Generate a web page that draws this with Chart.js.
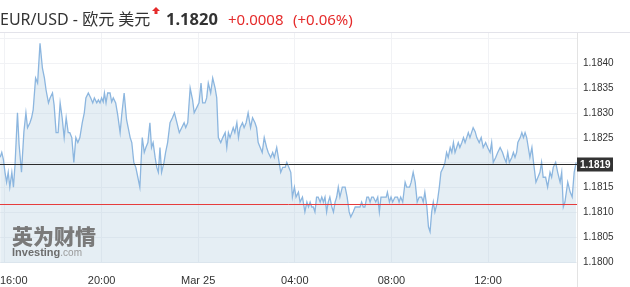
<!DOCTYPE html>
<html>
<head>
<meta charset="utf-8">
<script src="https://cdn.jsdelivr.net/npm/chart.js@4/dist/chart.umd.min.js"></script>
<style>
  html, body { margin: 0; padding: 0; background: #fff; }
  #wrap { position: relative; width: 630px; height: 287px; overflow: hidden; }
  canvas { position: absolute; left: 0; top: 0; }
  #hdr { position: absolute; left: 0; top: 0; height: 33px; width: 630px; white-space: nowrap;
         font-family: "Noto Sans", "Noto Sans CJK SC", sans-serif; }
  #hdr span { position: absolute; top: 7px; line-height: 24px; }
  #name { left: 0; font-size: 16px; color: #333; }
  #last { left: 166px; font-size: 16.5px; font-weight: bold; color: #333; }
  #chg { left: 228px; font-size: 15px; color: #e52b2b; }
  #pct { left: 293px; font-size: 15px; color: #e52b2b; }
  #arrow { position: absolute; left: 152px; top: 7px; width: 8px; height: 8px; }
  #wm { position: absolute; left: 12px; top: 223px; color: #7a7a7a; pointer-events: none; }
  #wm .cn { font-family: "Noto Sans CJK SC", sans-serif; font-weight: 900; font-size: 21px; line-height: 25px; }
  #wm .en { font-family: "Liberation Sans", Arial, sans-serif; font-size: 11px; line-height: 12px; margin-top: -2px; }
  #wm .en b { color: #6d6d6d; }
  #wm .en span { color: #9a9a9a; font-size: 10px; }
</style>
</head>
<body>
<div id="wrap">
  <canvas id="c" width="630" height="287"></canvas>
  <div id="hdr">
    <span id="name">EUR/USD - 欧元 美元</span>
    <svg id="arrow" viewBox="0 0 8 8"><path d="M4 0 L8 4 L5.5 4 L5.5 7 L2.5 7 L2.5 4 L0 4 Z" fill="#e52b2b"/></svg>
    <span id="last">1.1820</span>
    <span id="chg">+0.0008</span>
    <span id="pct">(+0.06%)</span>
  </div>
  <div id="wm"><div class="cn">英为财情</div><div class="en"><b>Investing</b><span>.com</span></div></div>
</div>
<script>
// minutes since 16:00 (Mar 24)
const minutes = [
-12,-8,-4,0,4,8,12,17,21,25, 31,35,41,47,52,56,62,66,70,76, 81,87,93,98,102,108,112,118,122,127,
132,137,142,147,152,157,161,166,171,176, 181,186,192,197,201,207,213,218,222,228,
232,236,240,244,247,251,255,261,265,269, 275,280,286,290,296,302,306,311,315,320,
325,330,335,341,346,350,355,360,364,368, 373,377,381,385,389,395,399,404,410,416,
421,427,433,439,445,449,454,460,
466,470,476,482,487,491,497,501,505,511, 516,522,526,530,536,541,547,551,555,559,
563,567,571,576,580,584,590,594,599,604, 610,615,621,625,629,634,639,644,650,654,
660,665,669,675,679,685,690,696,
700,704,710,714,719,723,729,733,739,745, 750,754,758,762,766,770,774,778,783,787,
791,795,799,803,807,812,816,820,824,828, 832,838,845,850,855,859,865,870,876,882,
886,890,894,899,903,907,911,915,921,926, 930,934,
942,947,950,955,959,963,969,975,979,983, 988,994,998,1005,1009,1014,1019,1024,1029,1035,
1039,1043,1048,1052,1056,1060,1064,1068,1074,1079, 1083,1089,1093,1097,1101,1106,1110,1114,1118,1122,
1126,1130,1135,1139,1143,1147,1151,1155,1159,1163,
1168,1172,1178,1183,1188,1194,1199,1205,1209,1213, 1219,1224,1230,1236,1240,1245,1249,1253,1259,1263,
1267,1271,1274,1280,1284,1288,1292,1296,1300,1304, 1309,1313,1319,1324,1329,1333,1337,1343,1348,1354,
1358,1362,1368,1373,1379,1383,1387,1391,1398,1404, 1409,1414,1419
];
const prices = [
1.18211,1.18221,1.18207,1.18181,1.18161,1.18181,1.18151,1.18181,1.18151,1.18197,
1.18301,1.18237,1.18181,1.18263,1.18301,1.18271,1.18281,1.18291,1.18307,1.18371,
1.18361,1.18441,1.18391,1.18371,1.18347,1.18321,1.18331,1.18341,1.18317,1.18261,
1.18261,1.18321,1.18291,1.18251,1.18291,1.18261,1.18261,1.18251,1.18201,1.18251,
1.18241,1.18251,1.18281,1.18301,1.18331,1.18341,1.18331,1.18321,1.18331,1.18321,
1.18327,1.18321,1.18331,1.18323,1.18341,1.18321,1.18341,1.18341,1.18323,1.18331,
1.18321,1.18297,1.18261,1.18297,1.18341,1.18287,1.18271,1.18251,1.18241,1.18201,
1.18191,1.18171,1.18151,1.18251,1.18221,1.18231,1.18241,1.18281,1.18231,1.18241,
1.18211,1.18191,1.18181,1.18231,1.18181,1.18201,1.18221,1.18241,1.18281,1.18291,
1.18301,1.18281,1.18261,1.18271,1.18281,1.18271,1.18281,1.18351,
1.18327,1.18301,1.18311,1.18321,1.18361,1.18321,1.18321,1.18331,1.18361,1.18341,
1.18371,1.18351,1.18331,1.18251,1.18241,1.18251,1.18261,1.18231,1.18261,1.18251,
1.18261,1.18271,1.18261,1.18281,1.18251,1.18271,1.18281,1.18271,1.18281,1.18301,
1.18271,1.18291,1.18281,1.18271,1.18241,1.18231,1.18221,1.18251,1.18231,1.18221,
1.18211,1.18221,1.18211,1.18231,1.18211,1.18181,1.18191,1.18191,
1.18201,1.18193,1.18181,1.18131,1.18151,1.18131,1.18141,1.18121,1.18131,1.18101,
1.18121,1.18111,1.18121,1.18111,1.18111,1.18101,1.18131,1.18131,1.18121,1.18131,
1.18121,1.18131,1.18101,1.18121,1.18131,1.18111,1.18101,1.18121,1.18131,1.18151,
1.18131,1.18151,1.18151,1.18131,1.18101,1.18091,1.18101,1.18111,1.18111,1.18111,
1.18121,1.18111,1.18111,1.18131,1.18131,1.18121,1.18131,1.18131,1.18121,1.18131,
1.18101,1.18131,
1.18131,1.18131,1.18141,1.18121,1.18131,1.18121,1.18131,1.18131,1.18121,1.18131,
1.18121,1.18161,1.18151,1.18151,1.18161,1.18181,1.18161,1.18121,1.18131,1.18131,
1.18121,1.18141,1.18111,1.18071,1.18061,1.18101,1.18121,1.18101,1.18121,1.18151,
1.18181,1.18191,1.18201,1.18221,1.18211,1.18231,1.18221,1.18241,1.18221,1.18231,
1.18241,1.18231,1.18241,1.18251,1.18241,1.18251,1.18261,1.18251,1.18261,1.18271,
1.18263,1.18251,1.18241,1.18251,1.18231,1.18241,1.18231,1.18221,1.18241,1.18201,
1.18211,1.18221,1.18231,1.18221,1.18211,1.18201,1.18221,1.18201,1.18211,1.18221,
1.18211,1.18221,1.18241,1.18251,1.18261,1.18251,1.18261,1.18251,1.18231,1.18211,
1.18231,1.18201,1.18161,1.18171,1.18181,1.18201,1.18171,1.18171,1.18151,1.18181,
1.18171,1.18191,1.18201,1.18181,1.18161,1.18181,1.18111,1.18121,1.18161,1.18141,
1.18131,1.18181,1.18201
];
const xTickValues = [0, 240, 480, 720, 960, 1200];
const xTickLabels = ['16:00', '20:00', 'Mar 25', '04:00', '08:00', '12:00'];
const yTickValues = [1.1800, 1.1805, 1.1810, 1.1815, 1.1820, 1.1825, 1.1830, 1.1835, 1.1840, 1.1845];
const yTickLabels = ['1.1800', '1.1805', '1.1810', '1.1815', '', '1.1825', '1.1830', '1.1835', '1.1840', ''];
const lastPrice = 1.18198;
const lastLabel = '1.1819';
const prevClose = 1.18118;

const extras = {
  id: 'extras',
  afterDatasetsDraw(chart) {
    const ctx = chart.ctx, a = chart.chartArea;
    const y = chart.scales.y, x = chart.scales.x;
    ctx.save();
    ctx.fillStyle = '#e3e3ea';
    ctx.fillRect(0, Math.round(a.top) - 1, 630, 1);
    ctx.fillStyle = '#e3e3e3';
    ctx.fillRect(Math.round(a.right), a.top, 1, 287 - a.top);
    const yr = Math.round(y.getPixelForValue(prevClose)) + 0.5;
    ctx.strokeStyle = '#e63c3c'; ctx.lineWidth = 1;
    ctx.beginPath(); ctx.moveTo(a.left, yr); ctx.lineTo(a.right, yr); ctx.stroke();
    const yb = Math.round(y.getPixelForValue(lastPrice)) + 0.5;
    ctx.strokeStyle = '#2b2b2b';
    ctx.beginPath(); ctx.moveTo(a.left, yb); ctx.lineTo(a.right, yb); ctx.stroke();
    ctx.fillStyle = '#333';
    ctx.fillRect(a.right, yb - 7, 36, 14);
    ctx.fillStyle = '#fff';
    ctx.font = 'bold 10px "Liberation Sans", Arial, sans-serif';
    ctx.textBaseline = 'middle'; ctx.textAlign = 'left';
    ctx.fillText(lastLabel, a.right + 3, yb + 0.5);
    ctx.fillStyle = '#333';
    ctx.font = '11px "Liberation Sans", Arial, sans-serif';
    xTickValues.forEach((v, i) => {
      const px = x.getPixelForValue(v);
      const w = ctx.measureText(xTickLabels[i]).width;
      ctx.fillText(xTickLabels[i], Math.max(0, px - w / 2), 281);
    });
    ctx.restore();
  }
};

new Chart(document.getElementById('c'), {
  type: 'line',
  data: {
    datasets: [{
      data: minutes.map((m, i) => ({ x: m, y: prices[i] })),
      borderColor: '#8cb6df',
      borderWidth: 1.3,
      backgroundColor: 'rgba(168,198,220,0.3)',
      fill: 'start',
      pointRadius: 0,
      tension: 0
    }]
  },
  plugins: [extras],
  options: {
    responsive: false,
    animation: false,
    devicePixelRatio: 1,
    layout: { padding: { top: 33, left: 0, right: 0, bottom: 0 }, autoPadding: false },
    plugins: { legend: { display: false }, tooltip: { enabled: false } },
    scales: {
      x: {
        type: 'linear',
        min: -12.4, max: 1421,
        afterBuildTicks: s => { s.ticks = xTickValues.map(v => ({ value: v })); },
        afterFit: s => { s.height = 24; },
        ticks: { display: false },
        grid: { color: '#f1f2f5', drawTicks: false },
        border: { display: false }
      },
      y: {
        position: 'right',
        min: 1.17998, max: 1.18462,
        afterBuildTicks: s => { s.ticks = yTickValues.map(v => ({ value: v })); },
        afterFit: s => { s.width = 53; },
        ticks: {
          padding: 6,
          color: '#333',
          font: { family: '"Liberation Sans", Arial, sans-serif', size: 10 },
          callback: (v, i) => yTickLabels[i]
        },
        grid: { color: '#f1f2f5', drawTicks: false },
        border: { display: false }
      }
    }
  }
});
</script>
</body>
</html>
